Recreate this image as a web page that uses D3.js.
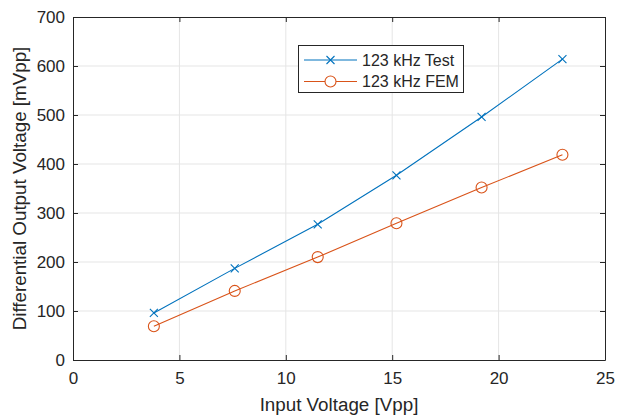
<!DOCTYPE html>
<html>
<head>
<meta charset="utf-8">
<script src="https://cdn.jsdelivr.net/npm/d3@7"></script>
<style>
  body { margin: 0; background: #fff; }
  text { font-family: "Liberation Sans", Arial, Helvetica, sans-serif; fill: #262626; }
</style>
</head>
<body>
<svg id="chart" width="617" height="417"></svg>
<script>
// Data
const inputVoltage = [3.8, 7.6, 11.5, 15.2, 19.2, 23.0];
const testValues   = [96, 187, 277, 377, 496, 614];
const femValues    = [69, 141, 210, 279, 352, 419];
const xTicks = [0, 5, 10, 15, 20, 25];
const yTicks = [0, 100, 200, 300, 400, 500, 600, 700];
const seriesNames = ['123 kHz Test', '123 kHz FEM'];

const COLOR_TEST = '#0072BD';
const COLOR_FEM  = '#D95319';
const AXIS_COLOR = '#262626';
const GRID_COLOR = '#e5e5e5';

const margin = { left: 73, right: 12, top: 17, bottom: 57 };
const W = 617, H = 417;
const innerW = W - margin.left - margin.right;
const innerH = H - margin.top - margin.bottom;

const svg = d3.select('#chart');
const g = svg.append('g').attr('transform', `translate(${margin.left},${margin.top})`);

const x = d3.scaleLinear().domain([0, 25]).range([0, innerW]);
const y = d3.scaleLinear().domain([0, 700]).range([innerH, 0]);

// Grid
g.append('g').selectAll('line.vg')
  .data(xTicks.slice(1, -1))
  .enter().append('line')
  .attr('x1', d => x(d)).attr('x2', d => x(d))
  .attr('y1', 0).attr('y2', innerH)
  .attr('stroke', GRID_COLOR).attr('stroke-width', 1);
g.append('g').selectAll('line.hg')
  .data(yTicks.slice(1, -1))
  .enter().append('line')
  .attr('x1', 0).attr('x2', innerW)
  .attr('y1', d => y(d)).attr('y2', d => y(d))
  .attr('stroke', GRID_COLOR).attr('stroke-width', 1);

// Axes (ticks pointing inward)
const xAxis = g.append('g').attr('transform', `translate(0,${innerH})`)
  .call(d3.axisBottom(x).tickValues(xTicks).tickSize(-5).tickPadding(12).tickSizeOuter(0));
const yAxis = g.append('g')
  .call(d3.axisLeft(y).tickValues(yTicks).tickSize(-5).tickPadding(8).tickSizeOuter(0));
const xTop = g.append('g')
  .call(d3.axisTop(x).tickValues(xTicks).tickSize(-5).tickFormat('').tickSizeOuter(0));
const yRight = g.append('g').attr('transform', `translate(${innerW},0)`)
  .call(d3.axisRight(y).tickValues(yTicks).tickSize(-5).tickFormat('').tickSizeOuter(0));

[xAxis, yAxis, xTop, yRight].forEach(a => {
  a.select('.domain').attr('stroke', AXIS_COLOR).attr('stroke-width', 1);
  a.selectAll('.tick line').attr('stroke', AXIS_COLOR);
  a.selectAll('.tick text')
    .attr('font-size', 17)
    .attr('font-family', '"Liberation Sans", Arial, sans-serif')
    .attr('fill', AXIS_COLOR);
});

// Axis labels
svg.append('text')
  .attr('x', margin.left + innerW / 2)
  .attr('y', 411)
  .attr('text-anchor', 'middle')
  .attr('font-size', 18.8)
  .text('Input Voltage [Vpp]');
svg.append('text')
  .attr('transform', `translate(25.5,${margin.top + innerH / 2}) rotate(-90)`)
  .attr('text-anchor', 'middle')
  .attr('font-size', 18.8)
  .text('Differential Output Voltage [mVpp]');

// Lines
const line = d3.line().x(d => x(d[0])).y(d => y(d[1]));
const testPts = inputVoltage.map((v, i) => [v, testValues[i]]);
const femPts  = inputVoltage.map((v, i) => [v, femValues[i]]);

g.append('path').datum(testPts)
  .attr('d', line).attr('fill', 'none')
  .attr('stroke', COLOR_TEST).attr('stroke-width', 1.1);
g.append('path').datum(femPts)
  .attr('d', line).attr('fill', 'none')
  .attr('stroke', COLOR_FEM).attr('stroke-width', 1.1);

function crossPath(cx, cy, s) {
  return `M${cx - s},${cy - s}L${cx + s},${cy + s}M${cx - s},${cy + s}L${cx + s},${cy - s}`;
}

g.selectAll('path.xmark')
  .data(testPts).enter().append('path')
  .attr('class', 'xmark')
  .attr('d', d => crossPath(x(d[0]), y(d[1]), 4))
  .attr('stroke', COLOR_TEST).attr('stroke-width', 1.1).attr('fill', 'none');

g.selectAll('circle.omark')
  .data(femPts).enter().append('circle')
  .attr('class', 'omark')
  .attr('cx', d => x(d[0])).attr('cy', d => y(d[1]))
  .attr('r', 5.5)
  .attr('stroke', COLOR_FEM).attr('stroke-width', 1.1).attr('fill', 'none');

// Legend
const leg = svg.append('g');
leg.append('rect')
  .attr('x', 298.5).attr('y', 45.5)
  .attr('width', 165).attr('height', 47)
  .attr('fill', '#fff').attr('stroke', AXIS_COLOR).attr('stroke-width', 1);

const legRows = [
  { name: seriesNames[0], color: COLOR_TEST, mark: 'x', y: 60 },
  { name: seriesNames[1], color: COLOR_FEM, mark: 'o', y: 81.5 }
];
legRows.forEach(r => {
  leg.append('line')
    .attr('x1', 304).attr('x2', 357)
    .attr('y1', r.y).attr('y2', r.y)
    .attr('stroke', r.color).attr('stroke-width', 1.1);
  if (r.mark === 'x') {
    leg.append('path').attr('d', crossPath(330.5, r.y, 4))
      .attr('stroke', r.color).attr('stroke-width', 1.1).attr('fill', 'none');
  } else {
    leg.append('circle').attr('cx', 330.5).attr('cy', r.y).attr('r', 5.5)
      .attr('stroke', r.color).attr('stroke-width', 1.1).attr('fill', '#fff');
  }
  leg.append('text')
    .attr('x', 362).attr('y', r.y + 5.8)
    .attr('font-size', 16)
    .text(r.name);
});
</script>
</body>
</html>
